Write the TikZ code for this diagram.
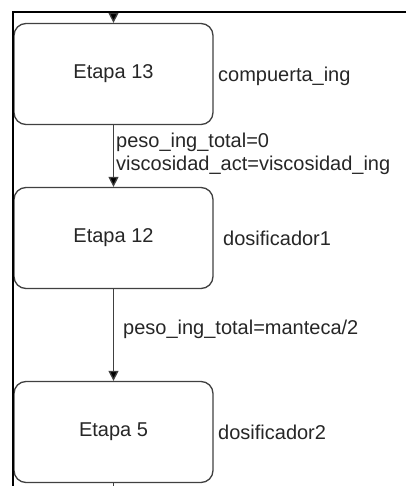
\documentclass[tikz,border=0pt]{standalone}
\usepackage{fontspec}
\setmainfont{Liberation Sans}
\usetikzlibrary{arrows.meta}
\begin{document}
\begin{tikzpicture}[x=1pt,y=-1pt,
  stage/.style={draw=black!75, line width=1.3pt, rounded corners=12pt,
    minimum width=199pt, minimum height=101pt, inner sep=0pt,
    font=\fontsize{20}{24}\selectfont, text=black!85},
  lbl/.style={anchor=west, inner sep=0pt, align=left,
    font=\fontsize{20}{23}\selectfont, text=black!85},
  link/.style={draw=black!75, line width=1.3pt},
  flow/.style={link, -{Triangle[length=10pt,width=10pt,fill=black]}}
]
\useasboundingbox (0,0) rectangle (406,486);

% stages
\node[stage] (e13) at (113.5,74)  {Etapa 13};
\node[stage] (e12) at (113.5,238) {Etapa 12};
\node[stage] (e5)  at (113.5,432) {Etapa 5};

% actuator names beside the stages
\node[lbl] (a13) at (218,76)  {compuerta\_ing};
\node[lbl] (a12) at (223,238) {dosificador1};
\node[lbl] (a5)  at (218,432) {dosificador2};

% transitions
\coordinate (in)  at (113.5,12);
\coordinate (out) at (113.5,486);
\draw[flow] (in) -- (e13.north);
\draw[flow] (e13.south) -- (e12.north);
\draw[flow] (e12.south) -- (e5.north);
\draw[link] (e5.south) -- (out);

% transition conditions
\node[lbl] (t1) at (116,153.5) {peso\_ing\_total=0\\viscosidad\_act=viscosidad\_ing};
\node[lbl] (t2) at (123,329) {peso\_ing\_total=manteca/2};

% frame
\draw[line width=2.4pt] (406,12) -- (13,12) -- (13,486);
\end{tikzpicture}
\end{document}
